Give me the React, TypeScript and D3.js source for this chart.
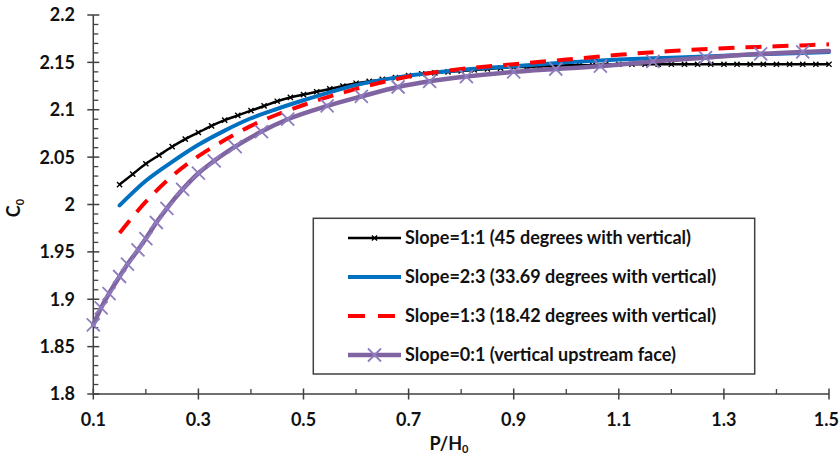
import React from "react";
import * as d3 from "d3";

// ---------- data ----------
const blackX = [0.15, 0.175, 0.2, 0.225, 0.25, 0.275, 0.3, 0.325, 0.35, 0.375, 0.4, 0.425, 0.45, 0.475, 0.5, 0.525, 0.55, 0.575, 0.6, 0.625, 0.65, 0.675, 0.7, 0.725, 0.75, 0.775, 0.8, 0.825, 0.85, 0.875, 0.9, 0.925, 0.95, 0.975, 1.0, 1.025, 1.05, 1.075, 1.1, 1.125, 1.15, 1.175, 1.2, 1.225, 1.25, 1.275, 1.3, 1.325, 1.35, 1.375, 1.4, 1.425, 1.45, 1.475, 1.5];
const blackY = [2.021, 2.032, 2.043, 2.052, 2.061, 2.069, 2.076, 2.083, 2.089, 2.094, 2.099, 2.104, 2.109, 2.113, 2.116, 2.119, 2.122, 2.125, 2.128, 2.130, 2.132, 2.134, 2.136, 2.138, 2.139, 2.140, 2.141, 2.142, 2.143, 2.144, 2.145, 2.145, 2.146, 2.146, 2.147, 2.147, 2.147, 2.148, 2.148, 2.148, 2.148, 2.148, 2.148, 2.148, 2.148, 2.148, 2.148, 2.148, 2.148, 2.148, 2.148, 2.148, 2.148, 2.148, 2.148];

const blueX = [0.15, 0.2, 0.25, 0.3, 0.35, 0.4, 0.45, 0.5, 0.6, 0.7, 0.8, 0.9, 1.0, 1.1, 1.2, 1.3, 1.4, 1.5];
const blueY = [1.999, 2.025, 2.045, 2.063, 2.078, 2.091, 2.101, 2.110, 2.126, 2.136, 2.142, 2.146, 2.150, 2.153, 2.155, 2.157, 2.159, 2.161];

const redX = [0.15, 0.2, 0.25, 0.3, 0.35, 0.4, 0.45, 0.5, 0.6, 0.7, 0.8, 0.9, 1.0, 1.1, 1.2, 1.3, 1.4, 1.5];
const redY = [1.970, 2.003, 2.030, 2.051, 2.068, 2.083, 2.095, 2.105, 2.122, 2.135, 2.143, 2.148, 2.153, 2.158, 2.162, 2.165, 2.167, 2.169];

const purpleX = [0.1, 0.115, 0.13, 0.15, 0.165, 0.185, 0.2, 0.22, 0.24, 0.27, 0.3, 0.33, 0.37, 0.42, 0.47, 0.545, 0.61, 0.68, 0.74, 0.81, 0.9, 0.98, 1.065, 1.165, 1.265, 1.37, 1.45, 1.5];
const purpleY = [1.873, 1.891, 1.906, 1.924, 1.937, 1.952, 1.964, 1.981, 1.996, 2.016, 2.033, 2.046, 2.061, 2.077, 2.090, 2.104, 2.114, 2.124, 2.130, 2.135, 2.140, 2.143, 2.146, 2.151, 2.155, 2.159, 2.161, 2.162];

const xTickLabels = ["0.1", "0.3", "0.5", "0.7", "0.9", "1.1", "1.3", "1.5"];
const xMinorTicks = [0.2, 0.4, 0.6, 0.8, 1.0, 1.2, 1.4];
const yTickLabels = ["1.8", "1.85", "1.9", "1.95", "2", "2.05", "2.1", "2.15", "2.2"];

const legendLabels = [
  "Slope=1:1 (45 degrees with vertical)",
  "Slope=2:3 (33.69 degrees with vertical)",
  "Slope=1:3 (18.42 degrees with vertical)",
  "Slope=0:1 (vertical upstream face)",
];

// ---------- layout ----------
const W = 840, H = 456;
const FONT = "Lato, 'Open Sans', sans-serif";
const AX = "#404040";
const FS = 18;

const x = d3.scaleLinear().domain([0.1, 1.5]).range([93.3, 829]);
const y = d3.scaleLinear().domain([1.8, 2.2]).range([394, 15]);

const zip = (xs: number[], ys: number[]) => xs.map((v, i) => [v, ys[i]] as [number, number]);

const line = d3
  .line<[number, number]>()
  .x((d) => x(d[0]))
  .y((d) => y(d[1]))
  .curve(d3.curveMonotoneX);

const Cross = ({ cx, cy, r, stroke, sw }: { cx: number; cy: number; r: number; stroke: string; sw: number }) => (
  <path d={`M${cx - r},${cy - r}L${cx + r},${cy + r}M${cx - r},${cy + r}L${cx + r},${cy - r}`} stroke={stroke} strokeWidth={sw} fill="none" />
);

export default function App() {
  const black = zip(blackX, blackY);
  const blue = zip(blueX, blueY);
  const red = zip(redX, redY);
  const purple = zip(purpleX, purpleY);

  const yMinor = d3.range(0, 41).map((i) => 1.8 + i * 0.01);

  const legX0 = 313.3, legY0 = 218.3, legW = 441.4, legH = 155.7;
  const rowY = [238, 277, 316, 355];
  const sx0 = 348, sx1 = 401, tx = 405;

  return (
    <svg width={W} height={H} style={{ position: "absolute", left: 0, top: 0, background: "#fff" }} fontFamily={FONT}>
      <rect width={W} height={H} fill="#fff" />
      {/* axes */}
      <line x1={x(0.1)} x2={x(0.1)} y1={y(2.2)} y2={y(1.8)} stroke={AX} strokeWidth={1.5} />
      <line x1={x(0.1)} x2={x(1.5)} y1={y(1.8)} y2={y(1.8)} stroke={AX} strokeWidth={1.5} />
      {yMinor.map((v, i) =>
        i % 5 === 0 ? (
          <line key={i} x1={x(0.1) - 6} x2={x(0.1) + 6} y1={y(v)} y2={y(v)} stroke={AX} strokeWidth={1.5} />
        ) : (
          <line key={i} x1={x(0.1)} x2={x(0.1) + 5} y1={y(v)} y2={y(v)} stroke={AX} strokeWidth={1.3} />
        )
      )}
      {yTickLabels.map((t) => (
        <text key={t} x={75} y={y(+t)} dy="0.36em" textAnchor="end" fontSize={FS} fontWeight="bold" fill="#111">
          {t}
        </text>
      ))}
      {xTickLabels.map((t, i) => {
        const last = i === xTickLabels.length - 1;
        return (
          <g key={t}>
            <line x1={x(+t)} x2={x(+t)} y1={y(1.8) - 5.5} y2={y(1.8) + 5.5} stroke={AX} strokeWidth={1.5} />
            <text x={last ? W - 1 : x(+t)} y={426} textAnchor={last ? "end" : "middle"} fontSize={FS} fontWeight="bold" fill="#111">
              {t}
            </text>
          </g>
        );
      })}
      {xMinorTicks.map((v) => (
        <line key={v} x1={x(v)} x2={x(v)} y1={y(1.8) - 5} y2={y(1.8)} stroke={AX} strokeWidth={1.3} />
      ))}
      {/* axis titles */}
      <text x={449} y={450} textAnchor="middle" fontSize={FS} fontWeight="bold" fill="#111">
        P/H<tspan fontSize={11} dy={3}>0</tspan>
      </text>
      <text transform="translate(20,208) rotate(-90)" textAnchor="middle" fontSize={FS} fontWeight="bold" fill="#111">
        C<tspan fontSize={11} dy={4}>0</tspan>
      </text>

      {/* series */}
      <path d={line(black) || ""} fill="none" stroke="#000" strokeWidth={2.5} />
      {black.map((d, i) => (
        <Cross key={"b" + i} cx={x(d[0])} cy={y(d[1])} r={2.6} stroke="#000" sw={1.4} />
      ))}
      <path d={line(blue) || ""} fill="none" stroke="#0070C0" strokeWidth={4} strokeLinecap="round" />
      <path d={line(red) || ""} fill="none" stroke="#FF0000" strokeWidth={4} strokeDasharray="16,11" />
      <path d={line(purple) || ""} fill="none" stroke="#8064A2" strokeWidth={4.5} strokeLinecap="round" />
      {purple.slice(0, -1).map((d, i) => (
        <Cross key={"p" + i} cx={x(d[0])} cy={y(d[1])} r={6.5} stroke="#8E7DBE" sw={1.8} />
      ))}

      {/* legend */}
      <rect x={legX0} y={legY0} width={legW} height={legH} fill="#fff" stroke={AX} strokeWidth={1.5} />
      <line x1={sx0} x2={sx1} y1={rowY[0]} y2={rowY[0]} stroke="#000" strokeWidth={2.5} />
      <Cross cx={(sx0 + sx1) / 2} cy={rowY[0]} r={2.6} stroke="#000" sw={1.4} />
      <line x1={sx0} x2={sx1} y1={rowY[1]} y2={rowY[1]} stroke="#0070C0" strokeWidth={4} />
      <line x1={sx0} x2={sx1} y1={rowY[2]} y2={rowY[2]} stroke="#FF0000" strokeWidth={4} strokeDasharray="17,13" />
      <line x1={sx0} x2={sx1} y1={rowY[3]} y2={rowY[3]} stroke="#8064A2" strokeWidth={4.5} />
      <Cross cx={(sx0 + sx1) / 2} cy={rowY[3]} r={6.5} stroke="#8E7DBE" sw={1.8} />
      {legendLabels.map((t, i) => (
        <text key={t} x={tx} y={rowY[i]} dy="0.36em" fontSize={FS} fontWeight="bold" fill="#111">
          {t}
        </text>
      ))}
    </svg>
  );
}
